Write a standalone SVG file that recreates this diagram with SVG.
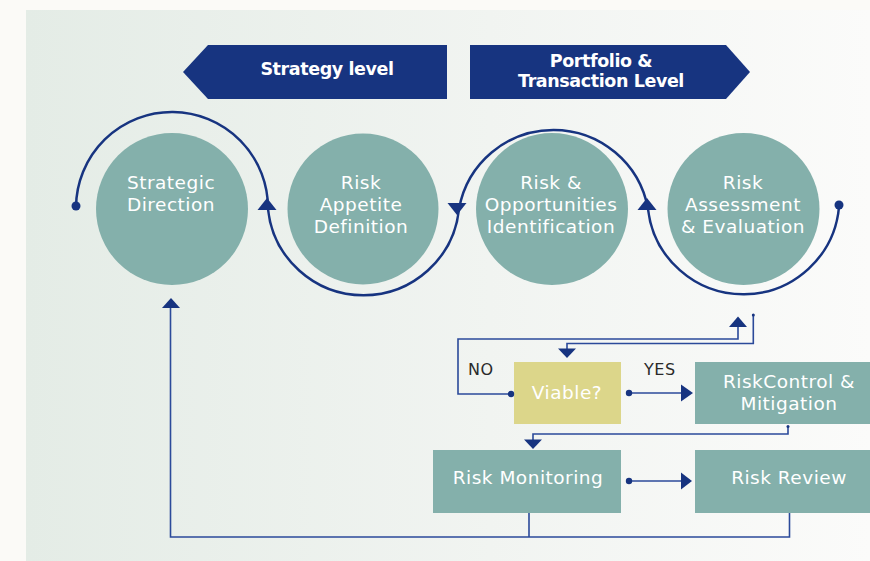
<svg xmlns="http://www.w3.org/2000/svg" width="870" height="561" viewBox="0 0 870 561">
<defs>
<linearGradient id="bg" x1="0" y1="0" x2="1" y2="0">
<stop offset="0" stop-color="#e4ece6"/>
<stop offset="0.55" stop-color="#f1f4f1"/>
<stop offset="1" stop-color="#fbfbfa"/>
</linearGradient>
<style>
.ban{fill:#173480}
.bt{fill:#ffffff;font-family:"DejaVu Sans","Liberation Sans",sans-serif;font-weight:bold;font-size:17.5px;text-anchor:middle;letter-spacing:-0.4px}
.circ{fill:#84b0ab}
.ct{fill:#ffffff;font-family:"DejaVu Sans","Liberation Sans",sans-serif;font-size:18.5px;text-anchor:middle;letter-spacing:0.5px}
.box{fill:#84b0ab}
.ybox{fill:#dcd68a}
.arc{fill:none;stroke:#173480;stroke-width:2.5}
.ln{fill:none;stroke:#2b4a9a;stroke-width:1.6}
.ah{fill:#173480}
.lab{fill:#2a2a2a;font-family:"DejaVu Sans","Liberation Sans",sans-serif;font-size:16px;letter-spacing:0.5px}
</style>
</defs>
<rect x="0" y="0" width="870" height="561" fill="#fbfaf7"/>
<rect x="26" y="10" width="844" height="551" fill="url(#bg)"/>

<g id="banner-strategy">
<polygon class="ban" points="183,72 208,45 447,45 447,99 208,99"/>
<text class="bt" x="327" y="75">Strategy level</text>
</g>
<g id="banner-portfolio">
<polygon class="ban" points="470,45 726,45 750,72 726,99 470,99"/>
<text class="bt" x="601" y="67">Portfolio &amp;</text>
<text class="bt" x="601" y="87">Transaction Level</text>
</g>

<g id="node-strategic-direction">
<circle class="circ" cx="172" cy="209" r="76"/>
<text class="ct" x="171" y="189">Strategic</text>
<text class="ct" x="171" y="211">Direction</text>
</g>
<g id="node-risk-appetite">
<circle class="circ" cx="363" cy="209" r="75.5"/>
<text class="ct" x="361" y="189">Risk</text>
<text class="ct" x="361" y="211">Appetite</text>
<text class="ct" x="361" y="233">Definition</text>
</g>
<g id="node-risk-opportunities">
<circle class="circ" cx="552" cy="209" r="76"/>
<text class="ct" x="551" y="189">Risk &amp;</text>
<text class="ct" x="551" y="211">Opportunities</text>
<text class="ct" x="551" y="233">Identification</text>
</g>
<g id="node-risk-assessment">
<circle class="circ" cx="743.5" cy="209" r="76"/>
<text class="ct" x="743" y="189">Risk</text>
<text class="ct" x="743" y="211">Assessment</text>
<text class="ct" x="743" y="233">&amp; Evaluation</text>
</g>

<g id="node-viable">
<rect class="ybox" x="514" y="362" width="107" height="62"/>
<text class="ct" x="567" y="399">Viable?</text>
</g>
<g id="node-risk-control">
<rect class="box" x="695" y="362" width="175" height="62"/>
<text class="ct" x="789" y="388">RiskControl &amp;</text>
<text class="ct" x="789" y="410">Mitigation</text>
</g>
<g id="node-risk-monitoring">
<rect class="box" x="433" y="450" width="188" height="63"/>
<text class="ct" x="528" y="484">Risk Monitoring</text>
</g>
<g id="node-risk-review">
<rect class="box" x="695" y="450" width="175" height="63"/>
<text class="ct" x="789" y="484">Risk Review</text>
</g>

<g id="connectors">
<path class="arc" d="M76,207 A96,96 0 0 1 268,209 A96,96 0 0 0 459,209 A96,96 0 0 1 648,209 A96,96 0 0 0 839,207"/>
<circle class="ah" cx="76" cy="206" r="4.5"/>
<circle class="ah" cx="839" cy="205" r="4.5"/>
<polygon class="ah" points="267,198 276.5,210 257.5,210"/>
<polygon class="ah" points="457,215 466.5,203 447.5,203"/>
<polygon class="ah" points="647,198 656.5,210 637.5,210"/>

<path class="ln" d="M753.3,315 V343.5 H567 V350"/>
<circle class="ah" cx="753.3" cy="315" r="1.5"/>
<polygon class="ah" points="567,358 558,348.5 576,348.5"/>

<path class="ln" d="M511,394 H458 V339 H738 V326"/>
<circle class="ah" cx="511" cy="394" r="3.2"/>
<polygon class="ah" points="738,316.5 747,327 729,327"/>
<text class="lab" x="468" y="375">NO</text>

<path class="ln" d="M629,393 H683"/>
<circle class="ah" cx="629" cy="393" r="3.2"/>
<polygon class="ah" points="693,393 681,384.5 681,401.5"/>
<text class="lab" x="644" y="375">YES</text>

<path class="ln" d="M788,426.5 V434 H533 V441"/>
<circle class="ah" cx="788" cy="426.5" r="1.5"/>
<polygon class="ah" points="533,449 524,439.5 542,439.5"/>

<path class="ln" d="M629,481 H683"/>
<circle class="ah" cx="629" cy="481" r="3.2"/>
<polygon class="ah" points="692,481 681,472.5 681,489.5"/>

<path class="ln" d="M529,513 V537 M789.5,513 V537 H170.5 V306"/>
<polygon class="ah" points="171,298 180,308 162,308"/>
</g>
</svg>
